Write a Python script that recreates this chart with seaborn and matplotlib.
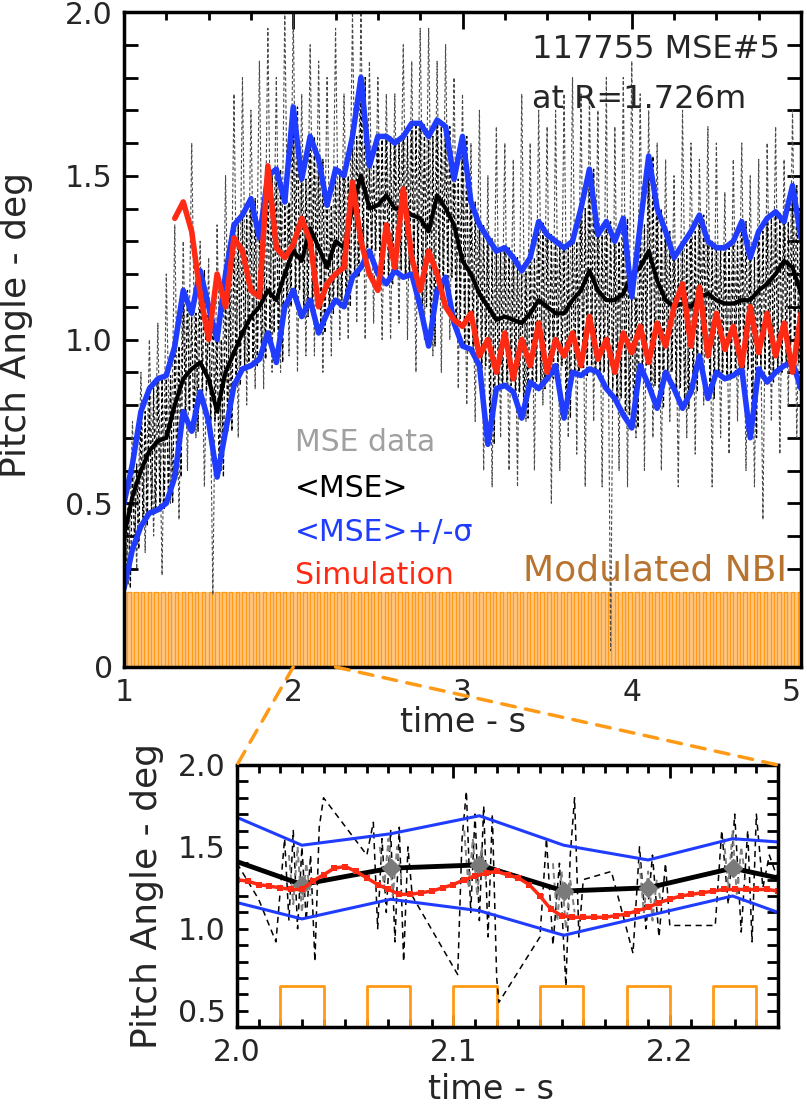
import numpy as np
import matplotlib
matplotlib.use("Agg")
import matplotlib.pyplot as plt
import seaborn as sns
from matplotlib.patches import ConnectionPatch
from matplotlib.ticker import FixedLocator, MultipleLocator

# ------------------------------------------------------------------ data
# main panel: time grid (s)
t_main = np.round(np.linspace(1.0, 5.0, 81), 2)

mse_mean = [0.40, 0.52, 0.60, 0.66, 0.69, 0.70, 0.80, 0.88, 0.91, 0.93,
            0.88, 0.78, 0.90, 0.96, 1.02, 1.07, 1.10, 1.15, 1.12, 1.20,
            1.27, 1.24, 1.34, 1.28, 1.22, 1.30, 1.28, 1.40, 1.50, 1.40,
            1.41, 1.44, 1.40, 1.40, 1.38, 1.37, 1.33, 1.44, 1.40, 1.35,
            1.24, 1.20, 1.14, 1.10, 1.06, 1.07, 1.06, 1.05, 1.08, 1.12,
            1.10, 1.08, 1.08, 1.12, 1.15, 1.21, 1.15, 1.12, 1.12, 1.14,
            1.20, 1.22, 1.27, 1.18, 1.12, 1.10, 1.11, 1.10, 1.13, 1.14,
            1.12, 1.11, 1.11, 1.12, 1.12, 1.15, 1.17, 1.20, 1.24, 1.22,
            1.14]
mse_upper = [0.50, 0.62, 0.78, 0.85, 0.88, 0.89, 0.98, 1.15, 1.08, 1.21,
             1.10, 1.00, 1.20, 1.35, 1.38, 1.43, 1.31, 1.50, 1.52, 1.42,
             1.71, 1.49, 1.62, 1.55, 1.41, 1.52, 1.50, 1.62, 1.80, 1.53,
             1.62, 1.62, 1.60, 1.62, 1.66, 1.66, 1.62, 1.67, 1.65, 1.49,
             1.62, 1.42, 1.35, 1.31, 1.27, 1.28, 1.25, 1.21, 1.25, 1.36,
             1.32, 1.30, 1.28, 1.30, 1.40, 1.52, 1.32, 1.36, 1.30, 1.37,
             1.13, 1.35, 1.56, 1.40, 1.33, 1.25, 1.29, 1.33, 1.38, 1.30,
             1.28, 1.28, 1.30, 1.36, 1.25, 1.33, 1.37, 1.39, 1.36, 1.47,
             1.31]
mse_lower = [0.24, 0.36, 0.43, 0.47, 0.48, 0.50, 0.58, 0.78, 0.72, 0.84,
             0.75, 0.58, 0.72, 0.86, 0.91, 0.92, 0.94, 1.02, 0.93, 1.10,
             1.15, 1.07, 1.12, 1.02, 1.08, 1.12, 1.10, 1.19, 1.22, 1.27,
             1.20, 1.17, 1.21, 1.19, 1.20, 1.10, 0.98, 1.15, 1.19, 1.05,
             0.98, 0.97, 0.92, 0.68, 0.85, 0.86, 0.84, 0.76, 0.87, 0.85,
             0.88, 0.92, 0.76, 0.90, 0.89, 0.91, 0.90, 0.85, 0.82, 0.77,
             0.73, 0.92, 0.86, 0.79, 0.90, 0.85, 0.79, 0.84, 0.95, 0.82,
             0.90, 0.88, 0.89, 0.91, 0.70, 0.91, 0.87, 0.90, 0.92, 0.93,
             0.85]
# raw MSE samples: extremes of each 50 ms window
mse_raw_high = [0.55, 0.75, 0.90, 1.00, 1.05, 1.20, 1.35, 1.30, 1.60, 1.30,
                1.25, 1.35, 1.50, 1.75, 1.80, 1.70, 1.85, 1.95, 1.80, 2.00,
                2.00, 1.75, 1.90, 1.85, 1.80, 1.95, 1.75, 2.00, 2.00, 1.85,
                1.80, 1.75, 1.75, 1.90, 1.85, 1.95, 1.95, 1.85, 1.90, 1.80,
                1.75, 1.60, 1.70, 1.50, 1.65, 1.60, 1.55, 1.75, 1.60, 1.70,
                1.65, 1.70, 1.75, 1.80, 1.75, 1.75, 1.70, 1.80, 1.65, 1.80,
                1.85, 1.75, 1.70, 1.60, 1.55, 1.50, 1.70, 1.60, 1.55, 1.65,
                1.60, 1.45, 1.55, 1.60, 1.50, 1.55, 1.60, 1.65, 1.55, 1.70,
                1.50]
mse_raw_low = [0.25, 0.30, 0.35, 0.40, 0.28, 0.50, 0.45, 0.60, 0.70, 0.55,
               0.22, 0.60, 0.75, 0.70, 0.80, 0.85, 0.85, 0.90, 0.90, 0.95,
               0.90, 0.95, 0.95, 0.90, 0.95, 1.00, 1.00, 1.05, 1.00, 1.05,
               1.00, 1.00, 1.05, 1.00, 0.90, 1.00, 0.95, 0.90, 1.00, 0.85,
               0.80, 0.75, 0.60, 0.55, 0.70, 0.60, 0.55, 0.75, 0.60, 0.80,
               0.50, 0.60, 0.70, 0.65, 0.55, 0.75, 0.55, 0.05, 0.60, 0.55,
               0.70, 0.60, 0.70, 0.60, 0.75, 0.55, 0.70, 0.65, 0.80, 0.55,
               0.70, 0.65, 0.75, 0.60, 0.55, 0.45, 0.75, 0.65, 0.80, 0.70,
               0.80]
# simulation starts at 1.30 s
t_sim = np.round(np.linspace(1.30, 5.0, 75), 2)
sim_main = [1.37, 1.42, 1.33, 1.14, 1.00, 1.20, 1.10, 1.31, 1.27, 1.15,
            1.13, 1.53, 1.28, 1.25, 1.29, 1.37, 1.30, 1.10, 1.17, 1.20,
            1.22, 1.48, 1.30, 1.20, 1.15, 1.35, 1.22, 1.46, 1.25, 1.15,
            1.27, 1.20, 1.10, 1.06, 1.04, 1.08, 0.95, 1.00, 0.90, 1.02,
            0.88, 1.00, 0.92, 1.05, 0.90, 1.00, 0.95, 1.02, 0.92, 1.07,
            0.94, 1.00, 0.90, 1.02, 0.96, 1.04, 0.93, 1.05, 0.98, 1.10,
            1.17, 0.98, 1.16, 0.95, 1.08, 0.97, 1.04, 0.92, 1.10, 0.96,
            1.08, 0.95, 1.05, 0.90, 1.08]

# NBI modulation: beam-on start times (s), 20 ms on each
nbi_on_times = [
    1.02, 1.06, 1.10, 1.14, 1.18, 1.22, 1.26, 1.30, 1.34, 1.38, 1.42, 1.46, 1.50,
    1.54, 1.58, 1.62, 1.66, 1.70, 1.74, 1.78, 1.82, 1.86, 1.90, 1.94, 1.98,
    2.02, 2.06, 2.10, 2.14, 2.18, 2.22, 2.26, 2.30, 2.34, 2.38, 2.42, 2.46, 2.50,
    2.54, 2.58, 2.62, 2.66, 2.70, 2.74, 2.78, 2.82, 2.86, 2.90, 2.94, 2.98,
    3.02, 3.06, 3.10, 3.14, 3.18, 3.22, 3.26, 3.30, 3.34, 3.38, 3.42, 3.46, 3.50,
    3.54, 3.58, 3.62, 3.66, 3.70, 3.74, 3.78, 3.82, 3.86, 3.90, 3.94, 3.98,
    4.02, 4.06, 4.10, 4.14, 4.18, 4.22, 4.26, 4.30, 4.34, 4.38, 4.42, 4.46, 4.50,
    4.54, 4.58, 4.62, 4.66, 4.70, 4.74, 4.78, 4.82, 4.86, 4.90, 4.94, 4.98]
nbi_on_duration = 0.02
nbi_level_main = 0.23
nbi_level_zoom = 0.65

# zoom panel
t_zoom_avg = [2.000, 2.030, 2.071, 2.112, 2.151, 2.190, 2.229, 2.250]
zoom_mean = [1.41, 1.27, 1.37, 1.39, 1.23, 1.25, 1.37, 1.31]
zoom_upper = [1.68, 1.51, 1.58, 1.69, 1.51, 1.42, 1.55, 1.53]
zoom_lower = [1.16, 1.06, 1.18, 1.11, 0.96, 1.08, 1.20, 1.10]

t_zoom_sim = np.round(np.linspace(2.0, 2.25, 51), 3)
zoom_sim = [1.30, 1.29, 1.27, 1.26, 1.25, 1.24, 1.24, 1.29, 1.33, 1.37,
            1.38, 1.35, 1.31, 1.27, 1.24, 1.21, 1.21, 1.22, 1.23, 1.25,
            1.27, 1.30, 1.32, 1.34, 1.35, 1.33, 1.31, 1.27, 1.20, 1.12,
            1.08, 1.07, 1.07, 1.07, 1.07, 1.08, 1.09, 1.11, 1.13, 1.16,
            1.18, 1.20, 1.21, 1.22, 1.23, 1.24, 1.24, 1.24, 1.24, 1.24,
            1.23]

zoom_raw_t = [2.000, 2.010, 2.018, 2.022, 2.024, 2.026, 2.028, 2.030, 2.032,
              2.034, 2.036, 2.038, 2.040, 2.060, 2.063, 2.065, 2.067, 2.069,
              2.071, 2.073, 2.075, 2.077, 2.079, 2.081, 2.102, 2.104, 2.106,
              2.108, 2.110, 2.112, 2.114, 2.116, 2.118, 2.120, 2.121, 2.140,
              2.143, 2.146, 2.149, 2.152, 2.154, 2.156, 2.158, 2.160, 2.173,
              2.183, 2.186, 2.189, 2.192, 2.195, 2.198, 2.200, 2.221, 2.224,
              2.227, 2.230, 2.233, 2.236, 2.238, 2.240, 2.243, 2.246, 2.250]
zoom_raw_v = [1.40, 1.18, 0.92, 1.55, 1.05, 1.60, 1.00, 1.50, 1.05,
              1.45, 0.80, 1.62, 1.80, 1.45, 1.65, 1.00, 1.55, 1.10,
              1.60, 0.92, 1.62, 0.80, 1.50, 1.20, 0.72, 1.55, 1.84,
              1.10, 1.70, 1.05, 1.75, 0.95, 1.70, 0.70, 0.55, 0.95,
              1.55, 0.90, 1.40, 0.65, 1.45, 1.80, 0.95, 1.30, 1.35,
              0.85, 1.50, 1.00, 1.45, 0.95, 1.40, 1.02, 1.02, 1.60,
              1.15, 1.70, 0.98, 1.60, 0.92, 1.70, 1.25, 1.45, 1.30]
zoom_burst_t = [2.024, 2.026, 2.028, 2.030, 2.032, 2.034, np.nan,
                2.066, 2.068, 2.070, 2.072, 2.074, 2.076, np.nan,
                2.105, 2.107, 2.109, 2.111, 2.113, 2.115, np.nan,
                2.146, 2.148, 2.150, 2.152, 2.154, 2.156, np.nan,
                2.186, 2.188, 2.190, 2.192, 2.194, 2.196, np.nan,
                2.225, 2.227, 2.229, 2.231, 2.233, 2.235]
zoom_burst_v = [1.45, 1.15, 1.50, 1.10, 1.40, 1.20, np.nan,
                1.50, 1.25, 1.55, 1.20, 1.50, 1.30, np.nan,
                1.60, 1.25, 1.55, 1.20, 1.50, 1.30, np.nan,
                1.40, 1.05, 1.35, 1.00, 1.30, 1.10, np.nan,
                1.40, 1.10, 1.35, 1.05, 1.30, 1.15, np.nan,
                1.55, 1.25, 1.60, 1.20, 1.50, 1.30]

# ------------------------------------------------------------------ style
sns.set_style("ticks")
plt.rcParams["font.family"] = ["DejaVu Sans"]

BLUE = "#1f3cff"
RED = "#ff2a14"
ORANGE = "#ff9a16"
ORANGE_FILL = "#ffc583"
NBI_TXT = "#b8742e"
GRAY = "#a0a0a0"
TICK_FS = 21.5
LAB_FS = 24
YLAB_FS = 26

fig = plt.figure(figsize=(8.07, 11.12), dpi=100)
ax1 = fig.add_axes([124 / 807, 1 - 667 / 1112, 677 / 807, 655 / 1112])
ax2 = fig.add_axes([237 / 807, 1 - 1027 / 1112, 541 / 807, 262 / 1112])


def nbi_wave(on_times, level, off):
    xs, ys = [], []
    for s in on_times:
        xs += [s, s, s + nbi_on_duration, s + nbi_on_duration]
        ys += [off, level, level, off]
    return np.array(xs), np.array(ys)


# ------------------------------------------------------------------ main panel
ax1.fill_between([t_main[0], t_main[-1]], 0, nbi_level_main,
                 color=ORANGE_FILL, lw=0, zorder=1)
wx, wy = nbi_wave(nbi_on_times, nbi_level_main, 0.0)
ax1.plot(wx, wy, color=ORANGE, lw=0.9, zorder=1.5)

# raw data, outer extremes and inner spread
dash = (0, (3, 2))
ox = np.column_stack([t_main, t_main + 0.025]).ravel()
oy = np.column_stack([mse_raw_high, mse_raw_low]).ravel()
ax1.plot(ox, oy, ls=dash, lw=0.8, color="#4a4a4a", zorder=2)
ix = np.column_stack([t_main, t_main + 0.0125, t_main + 0.025, t_main + 0.0375]).ravel()
iy = np.column_stack([mse_upper, mse_lower, mse_upper, mse_lower]).ravel()
ax1.plot(ix, iy, ls=dash, lw=0.9, color="black", zorder=2)

sns.lineplot(x=t_main, y=mse_upper, ax=ax1, color=BLUE, lw=4, sort=False,
             estimator=None, legend=False, zorder=4)
sns.lineplot(x=t_main, y=mse_lower, ax=ax1, color=BLUE, lw=4, sort=False,
             estimator=None, legend=False, zorder=4)
sns.lineplot(x=t_main, y=mse_mean, ax=ax1, color="black", lw=3, sort=False,
             estimator=None, legend=False, zorder=3)
sns.lineplot(x=t_sim, y=sim_main, ax=ax1, color=RED, lw=4, sort=False,
             estimator=None, legend=False, zorder=5)

ax1.set_xlim(1, 5)
ax1.set_ylim(0, 2)
ax1.xaxis.set_major_locator(FixedLocator([1, 2, 3, 4, 5]))
ax1.set_xticklabels(["1", "2", "3", "4", "5"])
ax1.xaxis.set_minor_locator(MultipleLocator(0.25))
ax1.yaxis.set_major_locator(FixedLocator([0, 0.5, 1.0, 1.5, 2.0]))
ax1.set_yticklabels(["0", "0.5", "1.0", "1.5", "2.0"])
ax1.yaxis.set_minor_locator(MultipleLocator(0.1))
ax1.set_xlabel("time - s", fontsize=LAB_FS)
ax1.set_ylabel("Pitch Angle - deg", fontsize=YLAB_FS)
ax1.yaxis.set_label_coords(-0.135, 0.522)
ax1.xaxis.set_label_coords(0.5, -0.06)

ax1.text(0.603, 0.942, "117755 MSE#5", transform=ax1.transAxes,
         fontsize=23, ha="left", va="center")
ax1.text(0.603, 0.866, "at R=1.726m", transform=ax1.transAxes,
         fontsize=23, ha="left", va="center")
ax1.text(0.2526, 0.343, "MSE data", color=GRAY, transform=ax1.transAxes,
         fontsize=TICK_FS, ha="left", va="center", zorder=6)
ax1.text(0.2526, 0.273, "<MSE>", color="black", transform=ax1.transAxes,
         fontsize=TICK_FS, ha="left", va="center", zorder=6)
ax1.text(0.2526, 0.205, "<MSE>+/-σ", color=BLUE, transform=ax1.transAxes,
         fontsize=TICK_FS, ha="left", va="center", zorder=6)
ax1.text(0.2526, 0.140, "Simulation", color=RED, transform=ax1.transAxes,
         fontsize=TICK_FS, ha="left", va="center", zorder=6)
ax1.text(0.979, 0.148, "Modulated NBI", color=NBI_TXT, transform=ax1.transAxes,
         fontsize=26, ha="right", va="center", zorder=6)

# ------------------------------------------------------------------ zoom panel
zx, zy = nbi_wave(nbi_on_times, nbi_level_zoom, 0.4)
ax2.plot(zx, zy, color=ORANGE, lw=2, zorder=2, clip_on=True)
ax2.plot(zoom_raw_t, zoom_raw_v, ls=(0, (4, 3)), lw=1.1, color="black", zorder=2)
ax2.plot(zoom_burst_t, zoom_burst_v, ls=(0, (3, 2)), lw=1.4, color="#808080", zorder=2)

sns.lineplot(x=t_zoom_avg, y=zoom_upper, ax=ax2, color=BLUE, lw=2.2,
             sort=False, estimator=None, legend=False, zorder=3)
sns.lineplot(x=t_zoom_avg, y=zoom_lower, ax=ax2, color=BLUE, lw=2.2,
             sort=False, estimator=None, legend=False, zorder=3)
sns.lineplot(x=t_zoom_avg, y=zoom_mean, ax=ax2, color="black", lw=3.5,
             sort=False, estimator=None, legend=False, zorder=4)
ax2.plot(t_zoom_avg[1:-1], zoom_mean[1:-1], ls="none", marker="D",
         ms=9, color="#7a7a7a", zorder=5)
sns.lineplot(x=t_zoom_sim, y=zoom_sim, ax=ax2, color=RED, lw=2.5,
             marker="s", markersize=5, markeredgewidth=0, sort=False,
             estimator=None, legend=False, zorder=6)

ax2.set_xlim(2.0, 2.25)
ax2.set_ylim(0.4, 2.0)
ax2.xaxis.set_major_locator(FixedLocator([2.0, 2.1, 2.2]))
ax2.set_xticklabels(["2.0", "2.1", "2.2"])
ax2.xaxis.set_minor_locator(MultipleLocator(0.01))
ax2.yaxis.set_major_locator(FixedLocator([0.5, 1.0, 1.5, 2.0]))
ax2.set_yticklabels(["0.5", "1.0", "1.5", "2.0"])
ax2.yaxis.set_minor_locator(MultipleLocator(0.1))
ax2.set_xlabel("time - s", fontsize=LAB_FS)
ax2.set_ylabel("Pitch Angle - deg", fontsize=YLAB_FS)
ax2.yaxis.set_label_coords(-0.135, 0.5)
ax2.xaxis.set_label_coords(0.47, -0.175)

for ax in (ax1, ax2):
    for sp in ax.spines.values():
        sp.set_visible(True)
        sp.set_linewidth(2.5)
        sp.set_color("black")
        sp.set_zorder(7)
    ax.tick_params(which="both", direction="in", top=True, right=True,
                   width=2, color="black", labelsize=TICK_FS, pad=8)
ax1.tick_params(axis="x", which="major", length=12)
ax1.tick_params(axis="x", which="minor", length=6)
ax1.tick_params(axis="y", which="both", length=10)
ax2.tick_params(axis="x", which="major", length=9)
ax2.tick_params(axis="x", which="minor", length=6)
ax2.tick_params(axis="y", which="both", length=8)

# keep the last x tick label of the main panel inside the figure
ax1.get_xticklabels()[-1].set_horizontalalignment("right")

# ------------------------------------------------------------------ zoom connectors
for xa in (t_zoom_avg[0], t_zoom_avg[-1]):
    con = ConnectionPatch(xyA=(xa, 0.0), coordsA=ax1.transData,
                          xyB=(xa, 2.0), coordsB=ax2.transData,
                          color=ORANGE, lw=2.5, ls=(0, (4, 3)))
    fig.add_artist(con)

fig.savefig("out.png", dpi=100)
